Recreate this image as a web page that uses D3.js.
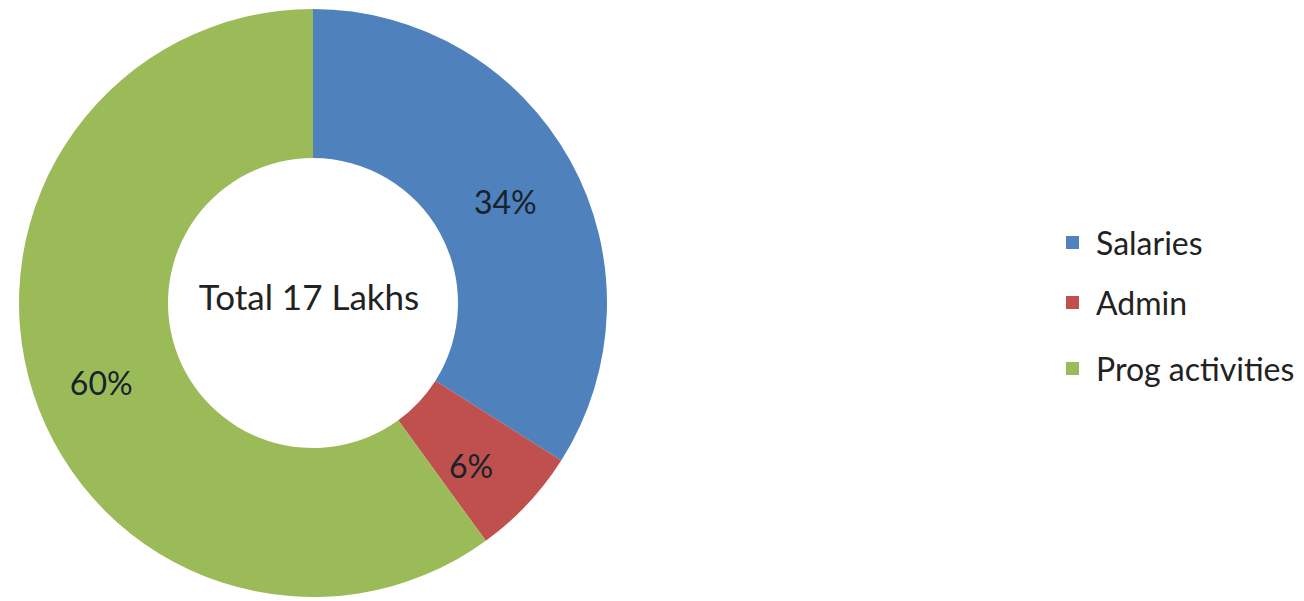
<head>
	<meta charset="utf-8">
	<title>Budget split</title>
	<script src="https://d3js.org/d3.v7.min.js"></script>
	<style>
		body { margin: 0; background: #fff; }
		text { font-family: Lato, "Open Sans", sans-serif; }
	</style>
</head>
<body>
	<script type="text/javascript">
	var categories = ["Salaries", "Admin", "Prog activities"];
	var shares = [34, 6, 60];
	var labels = ["34%", "6%", "60%"];
	var colors = ["#4F81BD", "#C0504D", "#9BBB59"];
	var centerText = "Total 17 Lakhs";

	var w = 1304;
	var h = 601;
	var cx = 313, cy = 303;
	var outerR = 294, innerR = 145;

	var svg = d3.select("body")
		.append("svg")
		.attr("width", w)
		.attr("height", h);

	var pie = d3.pie().sort(null).value(function(d){ return d; });
	var arc = d3.arc().innerRadius(innerR).outerRadius(outerR);
	var labelArc = d3.arc().innerRadius((innerR + outerR) / 2).outerRadius((innerR + outerR) / 2);

	var g = svg.append("g").attr("transform", "translate(" + cx + "," + cy + ")");

	var arcs = pie(shares);

	g.selectAll("path")
		.data(arcs)
		.enter()
		.append("path")
		.attr("d", arc)
		.attr("fill", function(d, i){ return colors[i]; });

	var offsets = [[0, 4], [-2, 12], [-3, 12]];
	g.selectAll("text.pct")
		.data(arcs)
		.enter()
		.append("text")
		.attr("class", "pct")
		.text(function(d, i){ return labels[i]; })
		.attr("text-anchor", "middle")
		.attr("dominant-baseline", "central")
		.attr("x", function(d, i){ return labelArc.centroid(d)[0] + offsets[i][0]; })
		.attr("y", function(d, i){ return labelArc.centroid(d)[1] + offsets[i][1]; })
		.attr("font-size", "32px")
		.attr("fill", "#17222b");

	g.append("text")
		.text(centerText)
		.attr("text-anchor", "middle")
		.attr("dominant-baseline", "central")
		.attr("x", -4)
		.attr("y", -7)
		.attr("font-size", "35px")
		.attr("fill", "#222");

	// legend
	var legendY = [242, 302, 368];
	var legend = svg.selectAll("g.legend")
		.data(categories)
		.enter()
		.append("g")
		.attr("class", "legend")
		.attr("transform", function(d, i){ return "translate(1066," + legendY[i] + ")"; });

	legend.append("rect")
		.attr("x", 0)
		.attr("y", -6)
		.attr("width", 13)
		.attr("height", 13)
		.attr("fill", function(d, i){ return colors[i]; });

	legend.append("text")
		.text(function(d){ return d; })
		.attr("x", 30)
		.attr("y", 0)
		.attr("dominant-baseline", "central")
		.attr("font-size", "32px")
		.attr("fill", "#222");
	</script>
</body>
